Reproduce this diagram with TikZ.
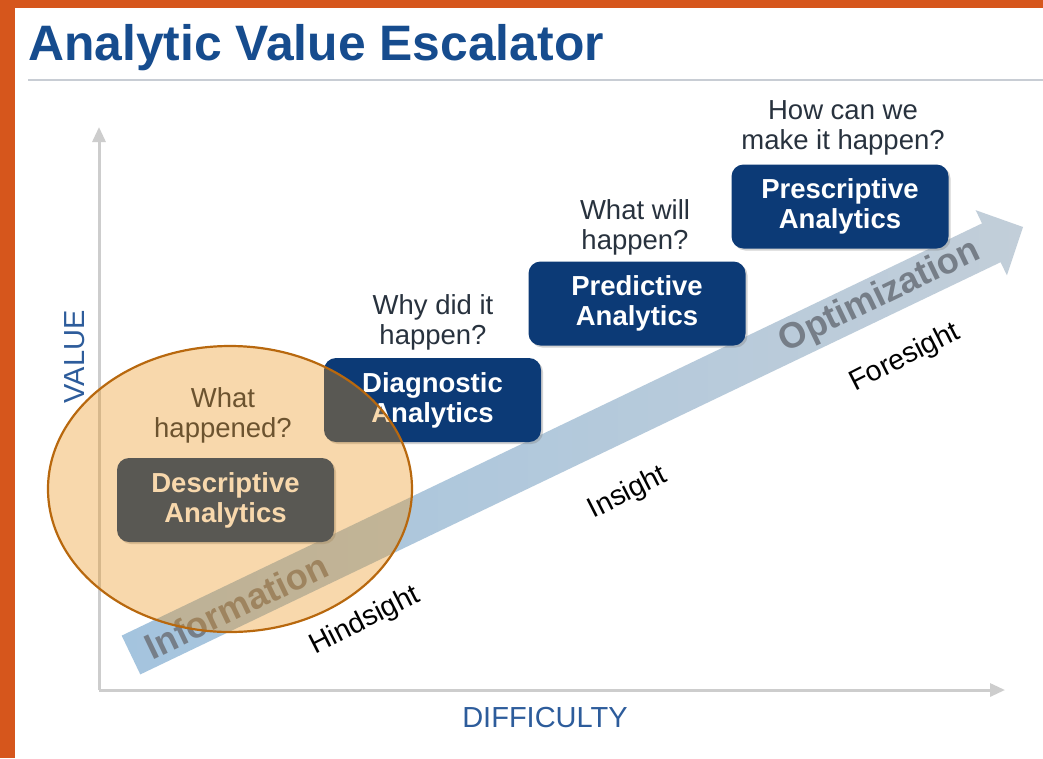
\documentclass[tikz,border=0pt]{standalone}
\usepackage{fontspec}
\setmainfont{Liberation Sans}
\usetikzlibrary{arrows.meta,shadows}
\definecolor{frameorange}{RGB}{214,86,28}
\definecolor{titleblue}{RGB}{22,76,142}
\definecolor{axisblue}{RGB}{45,92,155}
\definecolor{boxblue}{RGB}{12,58,118}
\definecolor{axisgray}{RGB}{205,205,205}
\definecolor{questgray}{RGB}{40,50,62}
\definecolor{bandleft}{RGB}{164,196,222}
\definecolor{bandright}{RGB}{194,206,217}
\definecolor{bandtext}{RGB}{118,126,136}
\definecolor{ellfill}{RGB}{235,145,20}
\definecolor{ellline}{RGB}{184,104,14}
\definecolor{ruleline}{RGB}{200,205,212}
\begin{document}
\begin{tikzpicture}[x=1pt,y=-1pt,
  stagebox/.style={fill=boxblue, rounded corners=12pt, minimum width=217pt, minimum height=84pt,
    text=white, font=\fontsize{27.5}{30}\selectfont\bfseries, align=center, inner sep=0pt,
    drop shadow={shadow xshift=2pt,shadow yshift=-2pt,opacity=0.35}},
  question/.style={text=questgray, font=\fontsize{27.5}{30}\selectfont, align=center, inner sep=0pt},
  sightlabel/.style={text=black, font=\fontsize{28.5}{32}\selectfont, rotate=27, inner sep=0pt},
  bandlabel/.style={text=bandtext, font=\fontsize{36}{40}\selectfont\bfseries, rotate=25.6, inner sep=0pt},
  axislabel/.style={text=axisblue, font=\fontsize{29}{32}\selectfont, inner sep=0pt},
  axisline/.style={draw=axisgray, line width=3pt, -{Triangle[length=15pt,width=13pt]}},
]
\useasboundingbox (0,0) rectangle (1043,758);
% frame
\fill[frameorange] (0,0) rectangle (1043,758);
\fill[white] (15,8) rectangle (1043,758);
% title
\node[anchor=base west, inner sep=0pt, text=titleblue, font=\fontsize{49.8}{55}\selectfont\bfseries] (title) at (28,60) {Analytic Value Escalator};
\coordinate (ruleL) at (28,80);
\coordinate (ruleR) at (1043,80);
\draw[ruleline, line width=2pt] (ruleL) -- (ruleR);
% axes
\coordinate (origin) at (99,690);
\coordinate (ytop) at (99,127);
\coordinate (xright) at (1005,690);
\draw[axisline] (origin) -- (ytop);
\draw[axisline] (origin) -- (xright);
\node[axislabel, rotate=90] (value) at (75,357) {VALUE};
\node[axislabel] (difficulty) at (545,718) {DIFFICULTY};
% big band arrow
\coordinate (sA) at (121.7,635.6);
\coordinate (sB) at (140.3,674.4);
\coordinate (hB) at (1000.6,262.2);
\coordinate (bB) at (1006.9,275.3);
\coordinate (tip) at (1023,227);
\coordinate (bA) at (975.7,210.2);
\coordinate (hA) at (982,223.4);
\path[left color=bandleft, right color=bandright] (sA) -- (sB) -- (hB) -- (bB) -- (tip) -- (bA) -- (hA) -- cycle;
\node[bandlabel] (information) at (236,606) {Information};
\node[bandlabel] (optimization) at (880,297) {Optimization};
% sight labels
\node[sightlabel] (hindsight) at (365,621) {Hindsight};
\node[sightlabel] (insight) at (628,493) {Insight};
\node[sightlabel] (foresight) at (905,358) {Foresight};
% questions
\node[question] (q1) at (223,415) {What\\happened?};
\node[question] (q2) at (433,322) {Why did it\\happen?};
\node[question] (q3) at (635,227) {What will\\happen?};
\node[question] (q4) at (843,128) {How can we\\make it happen?};
% boxes
\node[stagebox] (descriptive) at (225.5,500) {Descriptive\\Analytics};
\node[stagebox] (diagnostic) at (432.5,400) {Diagnostic\\Analytics};
\node[stagebox] (predictive) at (637,303.5) {Predictive\\Analytics};
\node[stagebox] (prescriptive) at (840,206.5) {Prescriptive\\Analytics};
% highlight ellipse
\fill[ellfill, fill opacity=0.35] (230,489) ellipse [x radius=182, y radius=143];
\draw[ellline, line width=2.2pt] (230,489) ellipse [x radius=182, y radius=143];
\end{tikzpicture}
\end{document}
